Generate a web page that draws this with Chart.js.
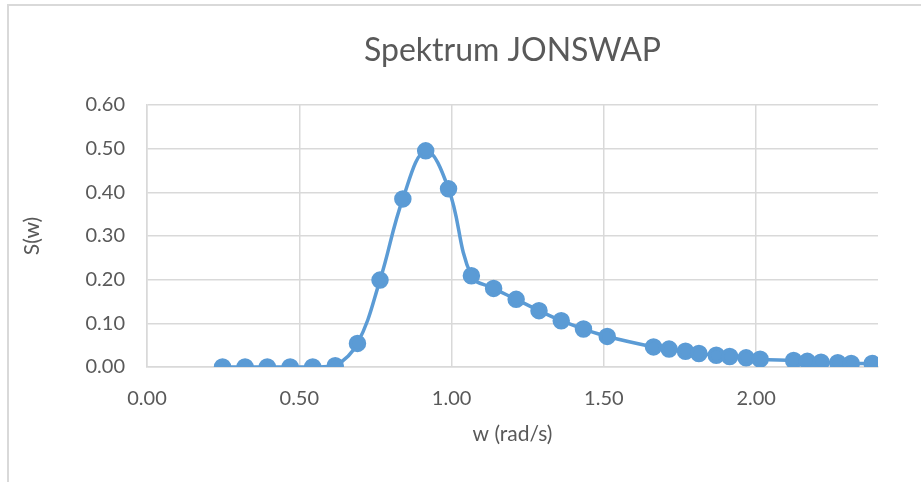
<!DOCTYPE html>
<html>
<head>
<meta charset="utf-8">
<script src="https://cdn.jsdelivr.net/npm/chart.js@4.4.0/dist/chart.umd.min.js"></script>
<style>
  html, body { margin: 0; padding: 0; background: #fff; }
  #wrap { position: relative; width: 921px; height: 482px; }
  #frame { position: absolute; left: 7px; top: 4px; right: 0; bottom: 0;
           border-left: 2px solid #d9d9d9; border-top: 2px solid #d9d9d9; }
  canvas { position: absolute; left: 0; top: 0; }
</style>
</head>
<body>
<div id="wrap">
  <div id="frame"></div>
  <canvas id="myChart" width="921" height="482"></canvas>
</div>
<script>
// angular frequency w (rad/s) and spectral density S(w)
var omega = [0.248, 0.322, 0.395, 0.470, 0.544, 0.618, 0.691, 0.765, 0.840, 0.915, 0.990,
             1.065, 1.138, 1.212, 1.287, 1.360, 1.433, 1.511, 1.663, 1.714, 1.768, 1.812,
             1.869, 1.913, 1.967, 2.013, 2.123, 2.168, 2.213, 2.268, 2.312, 2.381];
var spectrum = [0.000, 0.000, 0.000, 0.000, 0.000, 0.003, 0.054, 0.199, 0.385, 0.495, 0.408,
                0.209, 0.180, 0.155, 0.129, 0.106, 0.087, 0.070, 0.046, 0.041, 0.036, 0.031,
                0.027, 0.024, 0.021, 0.018, 0.015, 0.013, 0.011, 0.010, 0.008, 0.008];

var titleText = 'Spektrum JONSWAP';
var xTitle = 'w (rad/s)';
var yTitle = 'S(w)';

var points = omega.map(function (w, i) { return { x: w, y: spectrum[i] }; });

var textColor = '#595959';
var gridColor = '#d9d9d9';
var fontFamily = 'Lato, "Open Sans", sans-serif';

var ctx = document.getElementById('myChart').getContext('2d');
var myChart = new Chart(ctx, {
  type: 'scatter',
  data: {
    datasets: [{
      data: points,
      showLine: true,
      borderColor: '#5b9bd5',
      backgroundColor: '#5b9bd5',
      borderWidth: 3.5,
      pointRadius: 7,
      pointHoverRadius: 7,
      tension: 0.4
    }]
  },
  options: {
    responsive: false,
    animation: false,
    layout: { padding: { left: 20, right: 43, top: 0, bottom: 25 } },
    plugins: {
      legend: { display: false },
      tooltip: { enabled: false },
      title: {
        display: true,
        fullSize: false,
        text: titleText,
        color: textColor,
        font: { family: fontFamily, size: 32, weight: 'normal' },
        padding: { top: 31, bottom: 35.6 }
      }
    },
    scales: {
      x: {
        type: 'linear',
        min: 0,
        max: 2.4,
        afterFit: function (scale) { scale.height = 90; },
        ticks: {
          stepSize: 0.5,
          includeBounds: false,
          padding: 20,
          color: textColor,
          font: { family: fontFamily, size: 20 },
          callback: function (v) { return v.toFixed(2); }
        },
        grid: { color: gridColor, lineWidth: 1.5, drawTicks: false },
        border: { color: gridColor, width: 1.5 },
        title: {
          display: true,
          text: xTitle,
          color: textColor,
          font: { family: fontFamily, size: 21 },
          padding: { top: 0, bottom: 10 }
        }
      },
      y: {
        min: 0,
        max: 0.6,
        afterFit: function (scale) { scale.width = 127; },
        ticks: {
          stepSize: 0.1,
          padding: 22,
          color: textColor,
          font: { family: fontFamily, size: 20 },
          callback: function (v) { return v.toFixed(2); }
        },
        grid: { color: gridColor, lineWidth: 1.5, drawTicks: false },
        border: { color: gridColor, width: 1.5 },
        title: {
          display: true,
          text: yTitle,
          color: textColor,
          font: { family: fontFamily, size: 21 },
          padding: { top: 0, bottom: 0 }
        }
      }
    }
  }
});
</script>
</body>
</html>
